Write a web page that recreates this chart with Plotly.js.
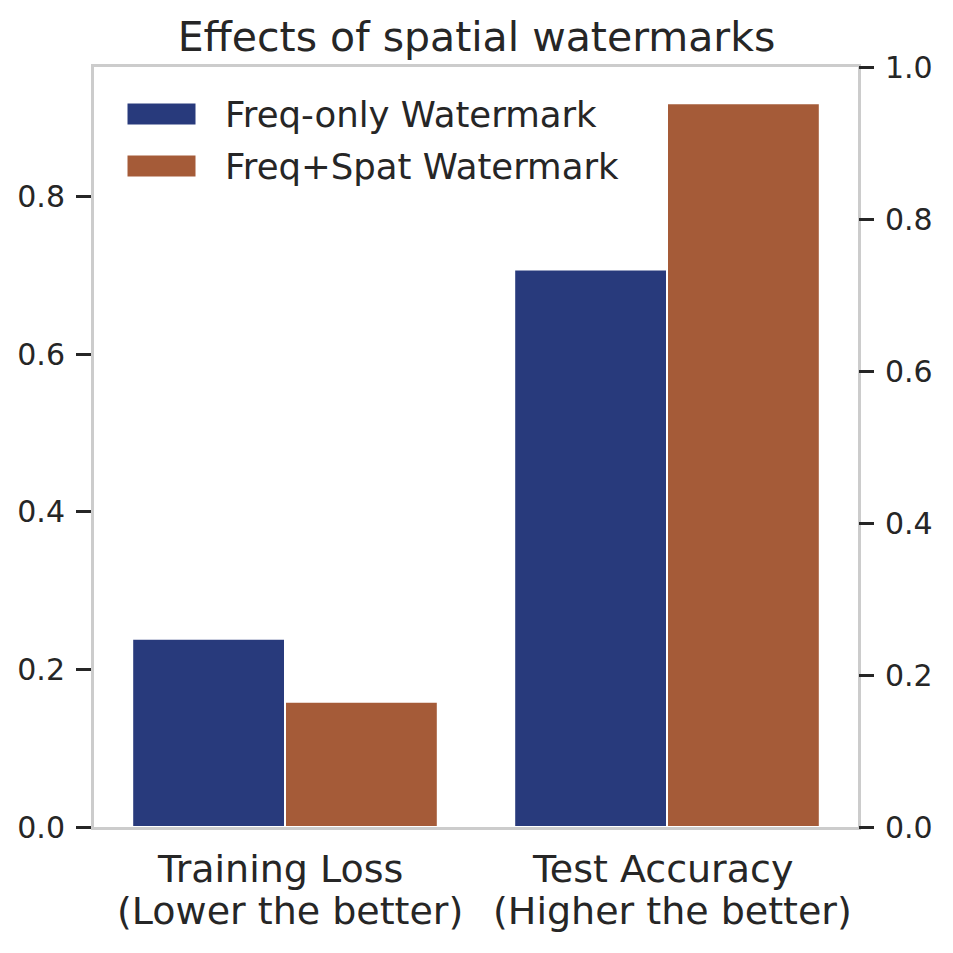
<!DOCTYPE html>
<html>
<head>
<meta charset="utf-8">
<script src="https://cdn.plot.ly/plotly-3.0.1.min.js"></script>
<style>html,body{margin:0;padding:0;background:#fff;}#chart{width:953px;height:953px;}</style>
</head>
<body>
<div id="chart"></div>
<script>
var categories = ["Training Loss", "Test Accuracy"];
var categoryNotes = ["(Lower the better)", "(Higher the better)"];
var seriesNames = ["Freq-only Watermark", "Freq+Spat Watermark"];
var freqOnly = [0.239, 0.708];
var freqSpat = [0.159, 0.919];
var leftTicks = [0.0, 0.2, 0.4, 0.6, 0.8];
var rightTicks = [0.0, 0.2, 0.4, 0.6, 0.8, 1.0];
var colors = ["#283a7c", "#a55b38"];

var FONT = "DejaVu Sans, Liberation Sans, sans-serif";
var TXT = "#262626";
var SPINE = "#cccccc";

var maxVal = Math.max.apply(null, freqOnly.concat(freqSpat));

var traces = [
  {type: "bar", name: seriesNames[0], x: categories, y: freqOnly,
   marker: {color: colors[0], line: {color: "#ffffff", width: 2}}, showlegend: false, hoverinfo: "y"},
  {type: "bar", name: seriesNames[1], x: categories, y: freqSpat,
   marker: {color: colors[1], line: {color: "#ffffff", width: 2}}, showlegend: false, hoverinfo: "y"},
  // empty companion trace so that the right-hand twin axis is drawn
  {type: "scatter", mode: "markers", x: [categories[0]], y: [null], yaxis: "y2",
   marker: {opacity: 0}, showlegend: false, hoverinfo: "skip"}
];

// plot area in pixels: x 94..858, y 67..827
var W = 764, H = 760;
function px(x){ return (x - 94) / W; }
function py(y){ return (827 - y) / H; }

var legendShapes = [], anns = [];
var rows = [[103,125],[155,177]];
for (var i = 0; i < seriesNames.length; i++) {
  legendShapes.push({type: "rect", xref: "paper", yref: "paper",
    x0: px(127), x1: px(196), y0: py(rows[i][1]), y1: py(rows[i][0]),
    fillcolor: colors[i], line: {color: "#ffffff", width: 1}});
  anns.push({xref: "paper", yref: "paper", x: px(223), y: py((rows[i][0]+rows[i][1])/2),
    xanchor: "left", yanchor: "middle", showarrow: false, text: seriesNames[i],
    font: {family: FONT, size: 35.5, color: TXT}});
}
for (var j = 0; j < categories.length; j++) {
  anns.push({xref: "x", yref: "paper", x: categories[j], y: py(869), xanchor: "center", yanchor: "middle",
    xshift: -5, showarrow: false, text: categories[j], font: {family: FONT, size: 38, color: TXT}});
  anns.push({xref: "x", yref: "paper", x: categories[j], y: py(911), xanchor: "center", yanchor: "middle",
    xshift: 5, showarrow: false, text: categoryNotes[j], font: {family: FONT, size: 38, color: TXT}});
}

var layout = {
  width: 953, height: 953,
  margin: {l: 94, r: 95, t: 67, b: 126, pad: 0},
  paper_bgcolor: "#ffffff", plot_bgcolor: "#ffffff",
  font: {family: FONT, color: TXT},
  title: {text: "Effects of spatial watermarks", font: {family: FONT, size: 41, color: TXT},
          x: 0.5, xanchor: "center", y: 1 - 37/953, yanchor: "middle"},
  barmode: "group", bargap: 0.2, bargroupgap: 0,
  xaxis: {type: "category", range: [-0.5, 1.5], showgrid: false, zeroline: false,
          showline: true, linecolor: SPINE, linewidth: 3, mirror: true,
          ticks: "", showticklabels: false, fixedrange: true},
  yaxis: {range: [0, maxVal * 1.05], showgrid: false, zeroline: false,
          showline: true, linecolor: SPINE, linewidth: 3, mirror: true,
          ticks: "outside", ticklen: 15, tickwidth: 3, tickcolor: TXT,
          tickvals: leftTicks, ticktext: leftTicks.map(function(v){return v.toFixed(1);}),
          tickfont: {family: FONT, size: 30, color: TXT}, ticklabelstandoff: 5},
  yaxis2: {overlaying: "y", side: "right", range: [0, 1], showgrid: false, zeroline: false,
           showline: false, ticks: "outside", ticklen: 15, tickwidth: 3, tickcolor: TXT,
           tickvals: rightTicks, ticktext: rightTicks.map(function(v){return v.toFixed(1);}),
           tickfont: {family: FONT, size: 30, color: TXT}, ticklabelstandoff: 5},
  shapes: legendShapes,
  annotations: anns
};

Plotly.newPlot("chart", traces, layout, {displayModeBar: false, staticPlot: true});
</script>
</body>
</html>
